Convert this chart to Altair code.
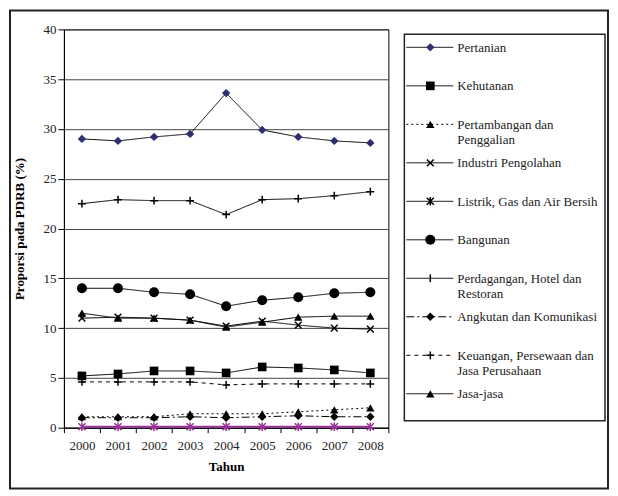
import altair as alt
import pandas as pd

years = ["2000", "2001", "2002", "2003", "2004", "2005", "2006", "2007", "2008"]

names = [
    "Pertanian",
    "Kehutanan",
    "Pertambangan dan Penggalian",
    "Industri Pengolahan",
    "Listrik, Gas dan Air Bersih",
    "Bangunan",
    "Perdagangan, Hotel dan Restoran",
    "Angkutan dan Komunikasi",
    "Keuangan, Persewaan dan Jasa Perusahaan",
    "Jasa-jasa",
]
legend_labels = [
    "Pertanian",
    "Kehutanan",
    "Pertambangan dan\nPenggalian",
    "Industri Pengolahan",
    "Listrik, Gas dan Air Bersih",
    "Bangunan",
    "Perdagangan, Hotel dan\nRestoran",
    "Angkutan dan Komunikasi",
    "Keuangan, Persewaan dan\nJasa Perusahaan",
    "Jasa-jasa",
]

pertanian = [29.0, 28.8, 29.2, 29.5, 33.6, 29.9, 29.2, 28.8, 28.6]
kehutanan = [5.2, 5.4, 5.7, 5.7, 5.5, 6.1, 6.0, 5.8, 5.5]
pertambangan = [1.1, 1.1, 1.1, 1.4, 1.4, 1.4, 1.6, 1.8, 2.0]
industri = [11.0, 11.1, 11.0, 10.8, 10.2, 10.7, 10.3, 10.0, 9.9]
listrik = [0.1, 0.1, 0.1, 0.1, 0.1, 0.1, 0.1, 0.1, 0.1]
bangunan = [14.0, 14.0, 13.6, 13.4, 12.2, 12.8, 13.1, 13.5, 13.6]
perdagangan = [22.5, 22.9, 22.8, 22.8, 21.4, 22.9, 23.0, 23.3, 23.7]
angkutan = [1.0, 1.0, 1.0, 1.1, 1.0, 1.1, 1.2, 1.1, 1.1]
keuangan = [4.6, 4.6, 4.6, 4.6, 4.3, 4.4, 4.4, 4.4, 4.4]
jasa = [11.5, 11.0, 11.0, 10.8, 10.1, 10.6, 11.1, 11.2, 11.2]

values = [pertanian, kehutanan, pertambangan, industri, listrik,
          bangunan, perdagangan, angkutan, keuangan, jasa]

X_PATH = "M-1,-1L1,1M-1,1L1,-1"
AST_PATH = "M-1,-1L1,1M-1,1L1,-1M0,-1.2L0,1.2"
PLUS_PATH = "M0,-1L0,1M-1,0L1,0"
TICK_PATH = "M0,-1L0,1"

styles = [
    dict(lc="#000000", dash=[1, 0], lw=1, shape="diamond", filled=True, mc="#2E2E70", size=70),
    dict(lc="#000000", dash=[1, 0], lw=1, shape="square", filled=True, mc="#000000", size=75),
    dict(lc="#000000", dash=[2, 3], lw=1, shape="triangle-up", filled=True, mc="#000000", size=70),
    dict(lc="#000000", dash=[1, 0], lw=1, shape=X_PATH, filled=False, mc="#000000", size=45),
    dict(lc="#993399", dash=[1, 0], lw=2, shape=AST_PATH, filled=False, mc="#993399", size=50),
    dict(lc="#000000", dash=[1, 0], lw=1, shape="circle", filled=True, mc="#000000", size=100),
    dict(lc="#000000", dash=[1, 0], lw=1, shape=PLUS_PATH, filled=False, mc="#000000", size=60),
    dict(lc="#000000", dash=[8, 3, 2, 3], lw=1, shape="diamond", filled=True, mc="#000000", size=70),
    dict(lc="#000000", dash=[4, 4], lw=1, shape=PLUS_PATH, filled=False, mc="#000000", size=60),
    dict(lc="#000000", dash=[1, 0], lw=1, shape="triangle-up", filled=True, mc="#000000", size=70),
]

FONT = "Times New Roman, Liberation Serif, Times, serif"

x_enc = alt.X(
    "year:O",
    scale=alt.Scale(type="band", paddingInner=0, paddingOuter=0),
    bandPosition=0.5,
    axis=alt.Axis(
        title="Tahun", labelAngle=0, tickBand="extent", grid=False,
        labelFont=FONT, labelFontSize=13, labelColor="#222222", labelPadding=7,
        tickSize=5, tickColor="#000000", domainColor="#000000",
        titleFont=FONT, titleFontSize=13, titleFontWeight="bold", titlePadding=8,
        titleColor="#000000",
    ),
)
y_enc = alt.Y(
    "value:Q",
    scale=alt.Scale(domain=[0, 40], nice=False),
    axis=alt.Axis(
        title="Proporsi pada PDRB (%)", values=[0, 5, 10, 15, 20, 25, 30, 35, 40],
        grid=True, gridColor="#444444", gridWidth=1,
        labelFont=FONT, labelFontSize=13, labelColor="#222222", labelPadding=2,
        tickSize=6, tickColor="#000000", domainColor="#000000",
        titleFont=FONT, titleFontSize=13, titleFontWeight="bold", titlePadding=16,
        titleColor="#000000",
    ),
)

layers = []
for name, vals, st in zip(names, values, styles):
    d = pd.DataFrame({"year": years, "value": vals, "series": name})
    base = alt.Chart(d)
    layers.append(
        base.mark_line(color=st["lc"], strokeDash=st["dash"], strokeWidth=st["lw"]).encode(x=x_enc, y=y_enc)
    )
for name, vals, st in zip(names, values, styles):
    d = pd.DataFrame({"year": years, "value": vals, "series": name})
    base = alt.Chart(d)
    if st["filled"]:
        pm = base.mark_point(shape=st["shape"], filled=True, fill=st["mc"], color=st["mc"],
                             size=st["size"], opacity=1, strokeWidth=0.5)
    else:
        pm = base.mark_point(shape=st["shape"], filled=False, color=st["mc"],
                             size=st["size"], opacity=1, strokeWidth=1.5)
    layers.append(pm.encode(x=x_enc, y=y_enc))

frame = alt.Chart(pd.DataFrame({"a": [0]})).mark_rect(
    fill=None, stroke="#222222", strokeWidth=2
).encode(x=alt.value(-54), x2=alt.value(545), y=alt.value(-19), y2=alt.value(460))

main = alt.layer(*layers, frame).properties(width=325, height=399)

leg_layers = []
leg_y = alt.Y("idx:Q", scale=alt.Scale(domain=[0, 9], range=[18, 365]), axis=None)
for i, (lab, st) in enumerate(zip(legend_labels, styles)):
    d = pd.DataFrame({"idx": [i], "label": [lab]})
    b = alt.Chart(d)
    leg_layers.append(
        b.mark_rule(color="#000000", strokeDash=st["dash"], strokeWidth=1).encode(
            x=alt.value(2), x2=alt.value(49), y=leg_y)
    )
    mc = "#000000" if i == 4 else st["mc"]
    if st["filled"]:
        pm = b.mark_point(shape=st["shape"], filled=True, fill=mc, color=mc,
                          size=st["size"], opacity=1, strokeWidth=0.5)
    else:
        shp = TICK_PATH if i == 6 else st["shape"]
        pm = b.mark_point(shape=shp, filled=False, color=mc, size=st["size"],
                          opacity=1, strokeWidth=1.5)
    leg_layers.append(pm.encode(x=alt.value(26), y=leg_y))
    leg_layers.append(
        b.mark_text(align="left", baseline="alphabetic", lineBreak="\n", lineHeight=15,
                    font=FONT, fontSize=13, color="#222222", dy=4.5).encode(
            x=alt.value(53), y=leg_y, text="label:N")
    )
leg_box = alt.Chart(pd.DataFrame({"a": [0]})).mark_rect(
    fill=None, stroke="#222222", strokeWidth=1.5
).encode(x=alt.value(0), x2=alt.value(201), y=alt.value(5), y2=alt.value(392))

legend = alt.layer(*leg_layers, leg_box).properties(
    width=201, height=399, view=alt.ViewBackground(stroke=None)
)

chart = alt.hconcat(main, legend, spacing=16, bounds="flush").properties(
    padding=0, background="white"
).configure_view(stroke="#000000", strokeWidth=1)

chart.save("out.html", embed_options={"renderer": "svg", "actions": False})
